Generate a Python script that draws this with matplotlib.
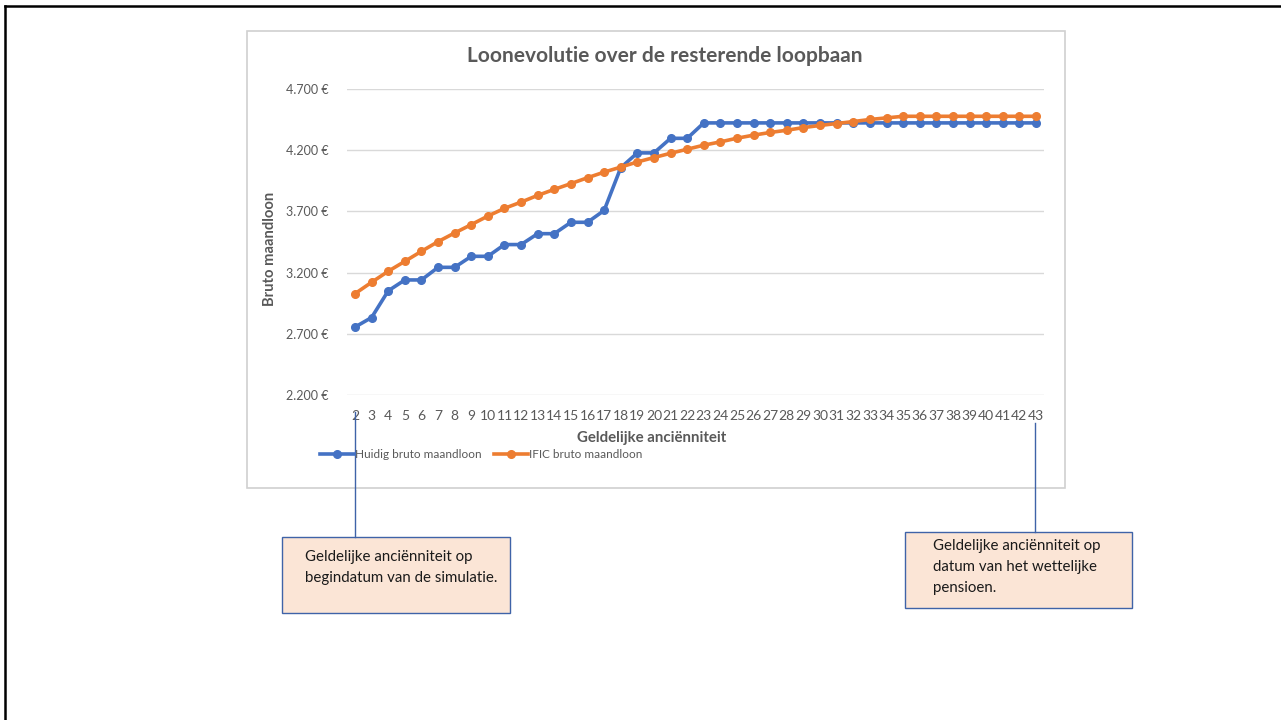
import matplotlib
matplotlib.use("Agg")
import matplotlib.pyplot as plt
from matplotlib.lines import Line2D
from matplotlib.patches import Rectangle
from matplotlib.ticker import FuncFormatter

plt.rcParams['font.family'] = ['Lato', 'DejaVu Sans']

# ---- data ----
anciennity = [2, 3, 4, 5, 6, 7, 8, 9, 10, 11, 12, 13, 14, 15, 16, 17, 18, 19, 20, 21, 22,
              23, 24, 25, 26, 27, 28, 29, 30, 31, 32, 33, 34, 35, 36, 37, 38, 39, 40, 41, 42, 43]
huidig = [2755, 2833, 3051, 3140, 3140, 3243, 3243, 3333, 3333, 3429, 3429, 3518, 3518,
          3611, 3611, 3708, 4057, 4178, 4178, 4297, 4297,
          4423, 4423, 4423, 4423, 4423, 4423, 4423, 4423, 4423, 4423, 4423, 4423, 4423,
          4423, 4423, 4423, 4423, 4423, 4423, 4423, 4423]
ific = [3028, 3121, 3211, 3292, 3374, 3453, 3524, 3592, 3662, 3725, 3776, 3831, 3880,
        3927, 3975, 4021, 4062, 4104, 4140, 4175, 4208,
        4241, 4268, 4298, 4323, 4345, 4363, 4385, 4402, 4418, 4434, 4451, 4464, 4477,
        4477, 4477, 4477, 4477, 4477, 4477, 4477, 4477]
y_ticks = [2200, 2700, 3200, 3700, 4200, 4700]
series_names = ["Huidig bruto maandloon", "IFIC bruto maandloon"]
title = "Loonevolutie over de resterende loopbaan"
xlabel = "Geldelijke anciënniteit"
ylabel = "Bruto maandloon"
note_left = "Geldelijke anciënniteit op\nbegindatum van de simulatie."
note_right = "Geldelijke anciënniteit op\ndatum van het wettelijke\npensioen."

W, H = 1281, 720
fig = plt.figure(figsize=(W / 100, H / 100), dpi=100)
fig.patch.set_facecolor("white")


def fx(px):
    return px / W


def fy(py):
    return 1 - py / H


# slide frame
fig.add_artist(Line2D([fx(5), fx(5)], [fy(6), fy(720)], color="black", lw=1.8))
fig.add_artist(Line2D([fx(5), fx(1281)], [fy(6), fy(6)], color="black", lw=1.8))

# chart box
fig.add_artist(Rectangle((fx(247), fy(488)), fx(1065) - fx(247), fy(31) - fy(488),
                         transform=fig.transFigure, facecolor="white",
                         edgecolor="#d0d0d0", lw=1.2, zorder=0))

ax = fig.add_axes([fx(346.7), fy(395), fx(1044.3) - fx(346.7), fy(89) - fy(395)])
ax.set_facecolor("none")
blue = "#4472C4"
orange = "#ED7D31"
ax.plot(anciennity, huidig, color=blue, lw=2.6, marker="o", ms=5.5, label=series_names[0], zorder=3)
ax.plot(anciennity, ific, color=orange, lw=2.6, marker="o", ms=5.5, label=series_names[1], zorder=3)

ax.set_xlim(1.5, 43.5)
ax.set_ylim(2200, 4700)
ax.set_yticks(y_ticks)
ax.set_xticks(anciennity)
ax.set_xticklabels([str(a) for a in anciennity])
ax.yaxis.set_major_formatter(FuncFormatter(lambda v, p: f"{v:,.0f}".replace(",", ".") + " €"))
ax.grid(axis="y", color="#d9d9d9", lw=1)
ax.set_axisbelow(True)
for s in ax.spines.values():
    s.set_visible(False)
ax.tick_params(axis="both", length=0, colors="#595959")
ax.tick_params(axis="y", pad=13, labelsize=9)
ax.tick_params(axis="x", pad=11, labelsize=10)
ax.grid(axis="x", visible=False)

fig.text(fx(665), fy(56), title, ha="center", va="center", fontsize=15,
         fontweight="bold", color="#595959")
fig.text(fx(270), fy(249), ylabel, ha="center", va="center", rotation=90,
         fontsize=10.6, fontweight="bold", color="#595959")
fig.text(fx(652), fy(438), xlabel, ha="center", va="center",
         fontsize=10.8, fontweight="bold", color="#595959")

leg = fig.legend(loc="center left", bbox_to_anchor=(fx(320), fy(455)), ncol=2, frameon=False,
                 fontsize=8.5, handlelength=2.9, handletextpad=0.1, columnspacing=1.0,
                 borderaxespad=0, borderpad=0)
for t in leg.get_texts():
    t.set_color("#595959")

# annotation connectors
line_col = "#3f63a8"
fig.add_artist(Line2D([fx(355), fx(355)], [fy(412), fy(537)], color=line_col, lw=1))
fig.add_artist(Line2D([fx(1035), fx(1035)], [fy(423), fy(532)], color=line_col, lw=1))

# annotation boxes
box_fill = "#FBE5D6"
box_edge = "#3f63a8"
fig.add_artist(Rectangle((fx(282), fy(613)), fx(510) - fx(282), fy(537) - fy(613),
                         transform=fig.transFigure, facecolor=box_fill, edgecolor=box_edge, lw=1))
fig.add_artist(Rectangle((fx(905), fy(608)), fx(1132) - fx(905), fy(532) - fy(608),
                         transform=fig.transFigure, facecolor=box_fill, edgecolor=box_edge, lw=1))
fig.text(fx(305), fy(567.5), note_left, ha="left", va="center", fontsize=10.8,
         color="#1a1a1a", linespacing=1.6)
fig.text(fx(933), fy(567), note_right, ha="left", va="center", fontsize=10.8,
         color="#1a1a1a", linespacing=1.6)

fig.savefig("out.png", dpi=100, facecolor="white")
